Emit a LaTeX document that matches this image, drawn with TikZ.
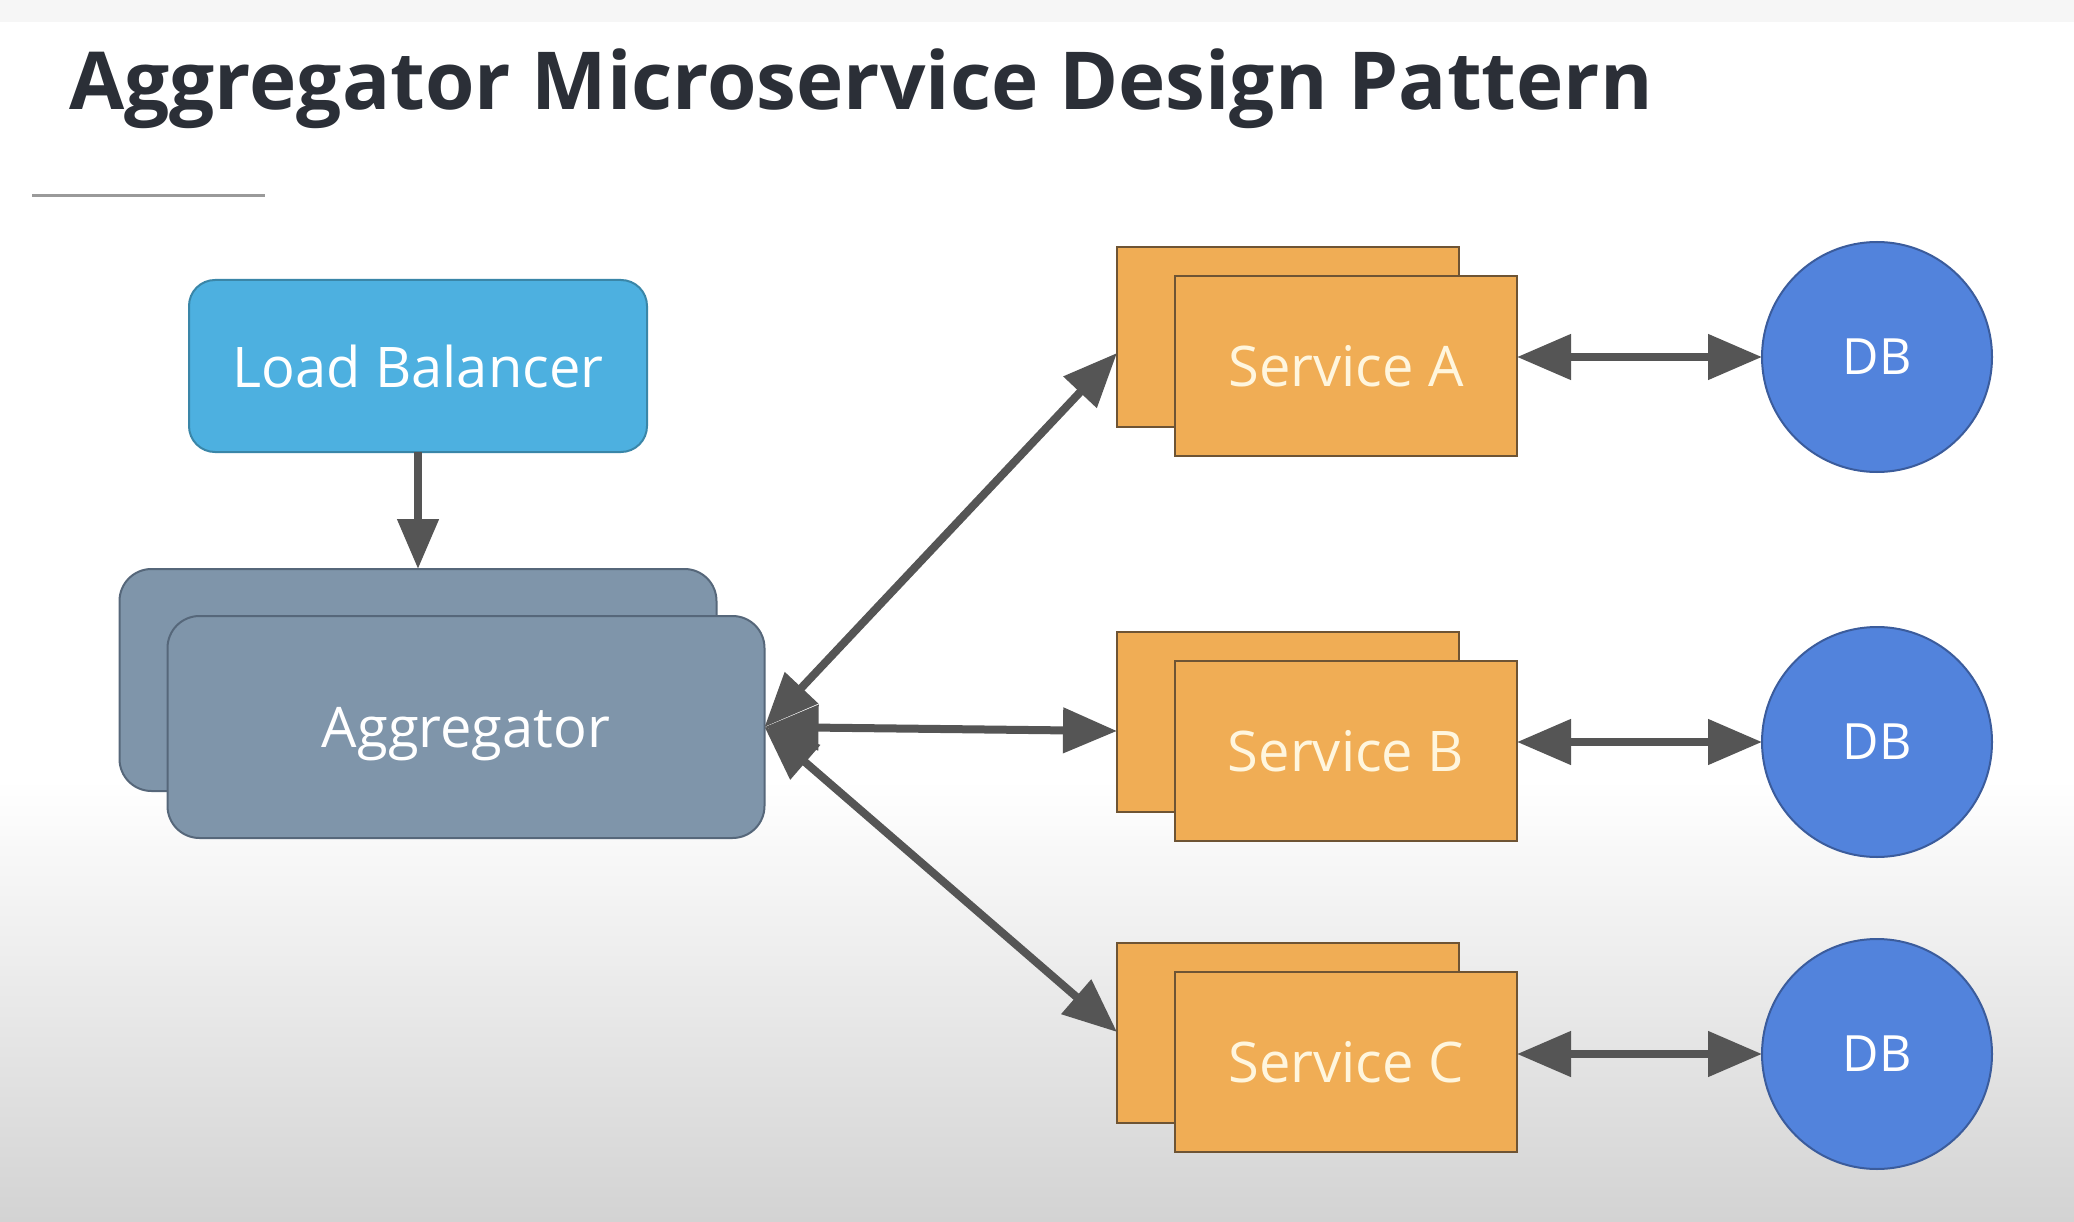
\documentclass[tikz,border=0pt]{standalone}
\usepackage{fontspec}
\setmainfont{Open Sans}
\usetikzlibrary{arrows.meta,calc}

\definecolor{titlecol}{HTML}{2B2F37}
\definecolor{rulecol}{HTML}{9A9A9A}
\definecolor{lbfill}{HTML}{4DB0E0}
\definecolor{lbline}{HTML}{3A86A8}
\definecolor{aggfill}{HTML}{7F95AA}
\definecolor{aggline}{HTML}{56677A}
\definecolor{svcfill}{HTML}{F0AD55}
\definecolor{svcline}{HTML}{6E5434}
\definecolor{dbfill}{HTML}{5283DC}
\definecolor{dbline}{HTML}{3B5C9C}
\definecolor{arrowcol}{HTML}{555555}
\definecolor{svctext}{HTML}{FFF6DE}
\definecolor{bgbottom}{HTML}{D3D3D3}

\newcommand{\labelfont}{\fontsize{56}{66}\selectfont}

\tikzset{
  boxbase/.style={inner sep=0pt, outer sep=0pt, line width=2pt, font=\labelfont},
  lbbox/.style={boxbase, draw=lbline, fill=lbfill, rounded corners=26pt,
    minimum width=458pt, minimum height=172pt, text=white},
  aggbox/.style={boxbase, draw=aggline, fill=aggfill, rounded corners=32pt,
    minimum width=597pt, minimum height=222pt, text=white, text depth=0pt},
  svcbox/.style={boxbase, draw=svcline, fill=svcfill,
    minimum width=342pt, minimum height=180pt, text=svctext},
  dbnode/.style={boxbase, circle, draw=dbline, fill=dbfill,
    minimum size=230pt, text=white, font=\fontsize{50}{60}\selectfont},
  link/.style={draw=arrowcol, line width=8pt},
  onearrow/.style={link, -{Triangle[length=50pt,width=40pt]}},
  twoarrow/.style={link, {Triangle[length=54pt,width=44pt]}-{Triangle[length=54pt,width=44pt]}},
}

\begin{document}
\begin{tikzpicture}[x=1pt,y=-1pt]
  % canvas and background fade
  \useasboundingbox (0,0) rectangle (2074,1222);
  \fill[white] (0,0) rectangle (2074,790);
  \fill[gray!7] (0,0) rectangle (2074,22);
  \shade[top color=white, bottom color=bgbottom] (0,780) rectangle (2074,1222);

  % heading and underline
  \node[anchor=base west, inner sep=0pt, text=titlecol,
        font=\fontsize{80}{96}\selectfont\bfseries] (title) at (69,110)
        {Aggregator Microservice Design Pattern};
  \draw[rulecol, line width=3pt] (32,196) -- (265,196);

  % load balancer and stacked aggregator
  \node[lbbox] (lb) at (418,366) {Load Balancer};
  \node[aggbox] (aggB) at (418,680) {};
  \node[aggbox] (aggF) at (466,727) {Aggregator};

  % stacked services
  \node[svcbox] (sAb) at (1288,337) {};
  \node[svcbox] (sA)  at (1346,366) {Service A};
  \node[svcbox] (sBb) at (1288,722) {};
  \node[svcbox] (sB)  at (1346,751) {Service B};
  \node[svcbox] (sCb) at (1288,1033) {};
  \node[svcbox] (sC)  at (1346,1062) {Service C};

  % databases
  \node[dbnode] (dbA) at (1877,357) {DB};
  \node[dbnode] (dbB) at (1877,742) {DB};
  \node[dbnode] (dbC) at (1877,1054) {DB};

  % connectors
  \draw[onearrow] (lb.south) -- (aggB.north);
  \draw[twoarrow] (aggF.east) -- ([yshift=-16pt]sAb.west);
  \draw[twoarrow] (aggF.east) -- ([yshift=-9pt]sBb.west);
  \draw[twoarrow] (aggF.east) -- ([yshift=1pt]sCb.west);
  \draw[twoarrow] (dbA.west -| sA.east) -- (dbA.west);
  \draw[twoarrow] (dbB.west -| sB.east) -- (dbB.west);
  \draw[twoarrow] (dbC.west -| sC.east) -- (dbC.west);
\end{tikzpicture}
\end{document}
